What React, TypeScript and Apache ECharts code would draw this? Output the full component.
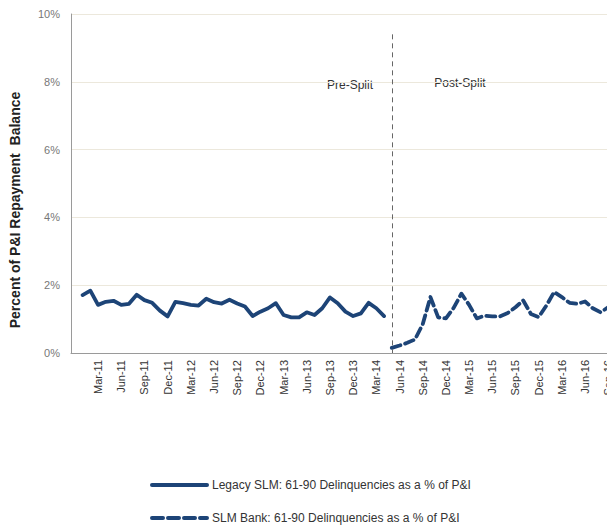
import React, { useEffect, useRef } from "react";
import * as echarts from "echarts";

const monthNames = ["Jan", "Feb", "Mar", "Apr", "May", "Jun", "Jul", "Aug", "Sep", "Oct", "Nov", "Dec"];

// Monthly categories Dec-10 .. Dec-16
const categories: string[] = ["Dec-10"];
for (let y = 11; y <= 16; y++) {
  for (let m = 0; m < 12; m++) categories.push(`${monthNames[m]}-${y}`);
}

// Legacy SLM: Jan-11 .. Apr-14
const legacyStart = "Jan-11";
const legacyValues = [
  1.71, 1.84, 1.42, 1.51, 1.54, 1.42, 1.45, 1.72, 1.56, 1.48, 1.25, 1.08,
  1.51, 1.47, 1.42, 1.40, 1.60, 1.50, 1.46, 1.57, 1.46, 1.37, 1.09, 1.22,
  1.32, 1.47, 1.12, 1.05, 1.05, 1.20, 1.12, 1.32, 1.64, 1.47, 1.22, 1.09,
  1.17, 1.48, 1.32, 1.09,
];

// SLM Bank: May-14 .. Sep-16
const bankStart = "May-14";
const bankValues = [
  0.15, 0.22, 0.30, 0.40, 0.85, 1.65, 1.05, 1.02,
  1.33, 1.75, 1.42, 1.02, 1.10, 1.08, 1.08, 1.18, 1.35, 1.55, 1.15, 1.06,
  1.40, 1.80, 1.65, 1.48, 1.45, 1.52, 1.32, 1.20, 1.35,
];

const splitMonth = "May-14";
const yTicks = [0, 2, 4, 6, 8, 10];

const legacyName = "Legacy SLM: 61-90 Delinquencies as a % of P&I";
const bankName = "SLM Bank: 61-90 Delinquencies as a % of P&I";

function toSeries(start: string, values: number[]) {
  const s = categories.indexOf(start);
  return values.map((v, i) => [categories[s + i], v]);
}

const FONT = "'Liberation Sans', Arial, sans-serif";
const NAVY = "#1d4477";

const legendBase = {
  orient: "horizontal",
  left: 150,
  padding: 0,
  itemWidth: 55,
  itemHeight: 14,
  itemGap: 4,
  itemStyle: { opacity: 0 },
  textStyle: { fontFamily: FONT, fontSize: 12, color: "#333" },
};

export default function App() {
  const ref = useRef<HTMLDivElement>(null);
  useEffect(() => {
    if (!ref.current) return;
    const chart = echarts.init(ref.current, undefined, { renderer: "svg" });
    chart.setOption({
      animation: false,
      backgroundColor: "#ffffff",
      textStyle: { fontFamily: FONT },
      grid: { left: 71, top: 14, bottom: 174, right: 4.7, containLabel: false },
      legend: [
        { ...legendBase, top: 479, lineStyle: { width: 4 }, data: [legacyName] },
        { ...legendBase, top: 512, lineStyle: { width: 4, type: [11, 5] }, data: [bankName] },
      ],
      xAxis: {
        type: "category",
        data: categories,
        boundaryGap: true,
        axisLine: { lineStyle: { color: "#9a9a9a", width: 1 } },
        axisTick: { show: false },
        axisLabel: {
          rotate: 90,
          margin: 7,
          fontSize: 11,
          color: "#333",
          fontFamily: FONT,
          interval: (idx: number) => idx > 0 && idx % 3 === 0,
        },
        splitLine: { show: false },
      },
      yAxis: {
        type: "value",
        min: yTicks[0],
        max: yTicks[yTicks.length - 1],
        interval: 2,
        axisLine: { show: true, lineStyle: { color: "#9a9a9a", width: 1 } },
        axisTick: { show: false },
        axisLabel: { formatter: "{value}%", fontSize: 11, color: "#777", margin: 11, fontFamily: FONT },
        splitLine: { lineStyle: { color: "#ece8dc", width: 1 } },
      },
      graphic: [
        {
          type: "text",
          x: 15,
          y: 210,
          rotation: Math.PI / 2,
          style: {
            text: "Percent of P&I Repayment  Balance",
            fontFamily: FONT,
            fontSize: 14,
            fontWeight: "bold",
            fill: "#222",
            align: "center",
            verticalAlign: "middle",
          },
        },
        {
          type: "text",
          x: 350,
          y: 85,
          style: { text: "Pre-Split", fontFamily: FONT, fontSize: 12, fill: "#333", align: "center", verticalAlign: "middle" },
        },
        {
          type: "text",
          x: 460,
          y: 83,
          style: { text: "Post-Split", fontFamily: FONT, fontSize: 12, fill: "#333", align: "center", verticalAlign: "middle" },
        },
      ],
      series: [
        {
          name: legacyName,
          type: "line",
          data: toSeries(legacyStart, legacyValues),
          symbol: "none",
          showSymbol: false,
          lineStyle: { color: NAVY, width: 3.8, cap: "round", join: "round" },
          itemStyle: { color: NAVY },
          markLine: {
            silent: true,
            symbol: "none",
            label: { show: false },
            lineStyle: { color: "#666", type: [5, 4], width: 1 },
            data: [[{ coord: [splitMonth, 9.4] }, { coord: [splitMonth, 0] }]],
          },
        },
        {
          name: bankName,
          type: "line",
          data: toSeries(bankStart, bankValues),
          symbol: "none",
          showSymbol: false,
          lineStyle: { color: NAVY, width: 3.8, type: [9, 5], cap: "round", join: "round" },
          itemStyle: { color: NAVY },
        },
      ],
    });
    return () => chart.dispose();
  }, []);
  return (
    <div style={{ position: "fixed", left: 0, top: 0, width: 607, height: 527, overflow: "hidden" }}>
      <div ref={ref} style={{ width: 640, height: 527 }} />
    </div>
  );
}
